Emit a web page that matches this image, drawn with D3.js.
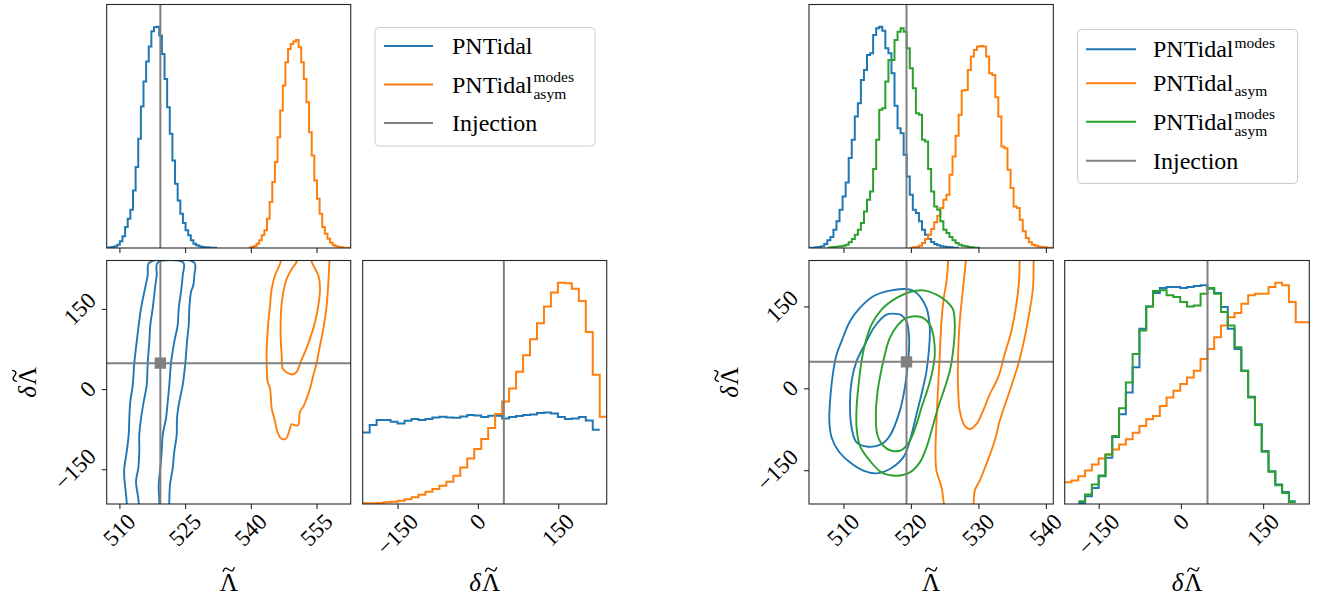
<!DOCTYPE html>
<html>
<head>
<meta charset="utf-8">
<script src="https://cdn.jsdelivr.net/npm/d3@7"></script>
<style>
  body { margin: 0; background: #fff; }
  svg { display: block; }
  text { font-family: "Liberation Serif", "Times New Roman", serif; fill: #000; }
</style>
</head>
<body>
<svg id="fig" width="1319" height="605"></svg>
<script>
// ---------------- data ----------------
const injectionLambda = 519.35;
const injectionDLambda = 48.5;

// tick values
const leftLambdaTicks = [510, 525, 540, 555];
const rightLambdaTicks = [510, 520, 530, 540];
const dLambdaTicks = [-150, 0, 150];

// axis ranges
const leftLambdaRange = [507.1, 562.8];
const leftDLambdaRange = [-215, 240.5];
const rightLambdaRange = [504.9, 541.1];
const rightDLambdaRange = [-212, 234.2];

// 1D marginal histograms (arbitrary density units); bins are regular: start + index * width
const leftLambdaBinStart = 507.1, leftLambdaBinWidth = 0.6;
const leftLambdaPNTidalFirst = 0;
const leftLambdaPNTidal = [1,2,3,5,10,20,35,63,88,115,173,243,328,425,500,560,605,651,663,665,638,583,508,423,343,263,193,143,103,75,53,38,23,13,8,5,3,2,2,1,1,1];
const leftLambdaModesAsymFirst = 54;
const leftLambdaModesAsym = [1,3,6,13,23,38,53,88,138,198,258,333,413,488,558,598,613,620,625,603,558,508,438,348,278,203,148,103,63,43,28,16,8,5,3,2,1,1,1];

const leftDLambdaBinCount = 35;
const leftDLambdaPNTidal = [215,237,252,252,247,242,250,255,252,255,260,262,260,259,263,267,266,261,265,265,257,261,264,267,269,273,275,272,261,255,257,261,251,223];
const leftDLambdaModesAsym = [2,2,3,5,7,10,14,20,28,37,45,55,67,85,110,137,165,195,228,270,308,347,397,447,495,543,593,635,665,663,647,610,517,388,262];

const rightLambdaBinStart = 504.9, rightLambdaBinWidth = 0.4525;
const rightLambdaModesFirst = 0;
const rightLambdaModes = [1,1,2,3,5,12,23,33,55,80,115,155,197,270,325,395,435,505,535,580,585,640,660,665,653,600,585,525,427,360,345,280,215,160,115,105,80,55,40,27,18,12,8,5,4,3,2,1,1];
const rightLambdaAsymFirst = 33;
const rightLambdaAsym = [1,2,3,7,15,27,40,57,77,97,120,145,160,220,275,337,400,473,475,535,575,595,605,607,605,575,525,520,453,395,305,300,235,180,125,120,85,50,30,17,10,7,4,3,2,1,1];
const rightLambdaModesAsymFirst = 6;
const rightLambdaModesAsym = [1,2,3,4,5,7,10,17,27,40,55,75,110,145,170,237,325,415,420,500,565,565,625,650,660,650,600,540,480,405,400,325,320,237,170,125,115,80,55,45,33,23,15,10,7,5,3,2,1,1];

const rightDLambdaBinCount = 36;
const rightDLambdaModesFirst = 2;
const rightDLambdaModes = [3,23,48,83,138,200,268,333,408,523,590,630,645,648,648,645,648,651,653,643,630,588,523,463,398,320,238,158,98,58,36,8];
const rightDLambdaAsymFirst = 0;
const rightDLambdaAsym = [65,70,83,100,118,136,148,163,178,193,213,233,253,263,293,318,338,358,378,398,433,463,498,533,558,570,598,623,628,628,648,661,653,603,543,543];
const rightDLambdaModesAsymFirst = 2;
const rightDLambdaModesAsym = [8,28,58,85,148,203,286,363,448,518,590,636,638,623,618,603,590,593,628,645,628,573,533,468,398,318,236,156,96,56,33,6];

// 2D credible contours, [Lambda, dLambda]
const leftPNTidalOuter = [[511.6,-230],[511.67,-212.8],[511.51,-197.4],[511.12,-165.7],[511.12,-147.7],[511.67,-116.8],[512.12,-85.7],[512.26,-54.6],[512.49,-23.6],[513.04,7.4],[513.4,48.4],[513.95,88.8],[514.41,119.7],[514.93,150.8],[515.68,181.9],[516.46,212.8],[516.83,236.5],[527.1,236.5],[527.1,212.8],[526.87,194.2],[526.35,181.9],[525.96,150.8],[525.82,119.7],[525.43,88.8],[525.05,48.4],[524.45,7.4],[523.68,-23.6],[523.15,-54.6],[523.08,-85.7],[522.53,-116.8],[522.17,-147.7],[521.55,-178.8],[521.39,-212.8],[521.39,-230]];
const leftPNTidalInner = [[514.41,-230],[514.41,-212.8],[514.18,-197.4],[513.79,-172.6],[514.31,-147.7],[514.54,-116.8],[514.54,-85.7],[514.93,-54.6],[515.55,-23.6],[516.23,7.4],[516.46,48.4],[516.83,88.8],[517.05,119.7],[517.6,150.8],[518.2,194.2],[518.52,212.8],[518.74,236.5],[524.59,236.5],[524.45,212.8],[524.06,181.9],[523.54,150.8],[523.31,119.7],[522.53,88.8],[521.78,48.4],[521.39,7.4],[521.03,-23.6],[520.64,-54.6],[519.89,-85.7],[519.66,-116.8],[519.34,-147.7],[518.97,-178.8],[519.11,-212.8],[519.1,-230]];
const leftModesAsymOuter = [[546.82,250],[546.82,238.4],[545.52,212.3],[544.76,187.5],[544.38,156.4],[544.0,125.4],[543.62,75.8],[543.62,49.1],[543.85,13.7],[544.38,1.2],[544.76,-36.0],[545.14,-48.4],[545.52,-60.8],[546.06,-79.5],[546.82,-91.9],[547.81,-93.8],[548.34,-88.8],[548.95,-73.3],[549.33,-65.8],[550.32,-68.3],[550.85,-67.0],[551.23,-42.2],[551.99,-32.9],[552.75,-17.4],[553.52,1.2],[554.28,26.1],[555.04,49.1],[555.65,75.8],[556.56,113.0],[557.32,156.4],[557.7,199.9],[557.93,238.4],[557.93,250]];
const leftModesAsymInner = [[550.47,250],[550.47,238.4],[549.33,224.7],[548.19,206.1],[547.28,175.0],[546.89,144.0],[546.82,94.4],[547.05,63.4],[547.28,38.5],[548.19,31.0],[549.33,27.3],[550.47,32.3],[551.39,51.0],[552.37,69.6],[553.52,94.4],[554.66,125.4],[555.42,156.4],[555.8,187.5],[555.42,212.3],[554.28,230.9],[553.9,238.4],[553.9,250]];

const rightModesOuter = [[519.10,182.0],[516.88,178.9],[514.42,168.6],[512.44,147.3],[510.97,122.9],[509.73,86.4],[508.99,62.1],[508.50,31.6],[508.10,-11.0],[507.91,-59.6],[508.25,-90.1],[509.24,-114.4],[510.97,-135.7],[512.94,-150.9],[514.91,-155.8],[516.88,-147.9],[518.86,-126.6],[519.84,-96.2],[520.83,-47.5],[521.57,-11.0],[522.31,31.6],[522.70,74.3],[522.80,110.8],[522.31,147.3],[521.32,168.6],[520.33,178.9]];
const rightModesInner = [[517.87,136.3],[516.39,135.1],[514.66,113.8],[513.18,80.3],[511.95,49.9],[511.21,13.4],[510.97,-29.2],[511.21,-71.8],[511.95,-99.2],[513.68,-107.1],[515.65,-102.3],[516.88,-87.0],[518.36,-41.4],[519.10,1.2],[519.59,49.9],[519.74,92.5],[519.35,122.9],[518.61,133.9]];
const rightModesAsymOuter = [[521.81,179.5],[523.79,171.6],[525.27,159.5],[526.25,144.2],[526.50,110.8],[526.25,68.2],[525.76,31.6],[525.02,1.2],[524.03,-35.3],[523.05,-77.9],[522.31,-108.3],[521.32,-135.7],[519.84,-154.0],[517.87,-160.1],[515.65,-154.0],[513.92,-132.7],[512.44,-105.3],[511.95,-71.8],[511.95,-35.3],[512.20,1.2],[512.69,49.9],[513.18,80.3],[514.17,116.9],[515.65,144.2],[517.87,165.6],[519.84,176.5]];
const rightModesAsymInner = [[520.73,132.1],[521.81,129.0],[522.80,116.9],[523.39,92.5],[523.54,62.1],[523.19,31.6],[522.55,1.2],[521.57,-35.3],[520.83,-65.7],[519.84,-96.2],[518.61,-113.2],[517.13,-114.4],[515.90,-105.3],[515.01,-84.0],[514.81,-47.5],[515.01,-11.0],[515.40,19.5],[516.14,62.1],[516.88,92.5],[518.11,116.9],[519.35,129.0]];
const rightAsymOuterLeft = [[525.51,245],[525.51,234.3],[525.27,196.0],[524.87,165.6],[524.53,122.9],[524.28,62.1],[524.03,1.2],[523.79,-59.6],[523.64,-120.5],[523.79,-150.9],[524.53,-181.4],[524.87,-210.6],[525.0,-225]];
const rightAsymOuterRight = [[538.18,245],[538.18,234.3],[538.09,183.8],[537.59,141.2],[536.85,92.5],[536.02,49.3],[535.13,13.4],[534.14,-23.1],[533.16,-59.6],[532.42,-96.2],[531.18,-138.8],[530.20,-169.2],[529.46,-187.5],[529.31,-210.6],[529.3,-225]];
const rightAsymInner = [[528.13,245],[528.13,234.3],[527.73,183.8],[527.24,122.9],[526.99,62.1],[526.99,1.2],[527.24,-41.4],[527.98,-68.8],[528.72,-74.9],[529.70,-65.7],[530.69,-41.4],[531.68,-11.0],[532.91,19.5],[533.89,62.1],[534.88,104.7],[535.62,153.4],[536.02,196.0],[536.11,234.3],[536.11,245]];

// ---------------- drawing ----------------
const C = { blue: "#1f77b4", orange: "#ff7f0e", green: "#2ca02c", inj: "#808080", spine: "#262626" };
const TICK_FS = 23, LABEL_FS = 25, LEG_FS = 24, SUP_FS = 15.5;
const LW = 2;
const svg = d3.select("#fig");
const defs = svg.append("defs");
let clipCount = 0;

function makePanel(x0, x1, y0, y1) {
  const id = "clip" + (clipCount++);
  defs.append("clipPath").attr("id", id).append("rect")
    .attr("x", x0).attr("y", y0).attr("width", x1 - x0).attr("height", y1 - y0);
  const root = svg.append("g");
  const inner = root.append("g").attr("clip-path", `url(#${id})`);
  return { x0, x1, y0, y1, root, inner };
}
function frame(p) {
  p.root.append("rect").attr("x", p.x0).attr("y", p.y0)
    .attr("width", p.x1 - p.x0).attr("height", p.y1 - p.y0)
    .attr("fill", "none").attr("stroke", C.spine).attr("stroke-width", 1.1);
}
function stepHist(p, x, y, start, width, first, vals, color) {
  const pts = vals.map((v, i) => [start + (first + i) * width, v]);
  pts.push([start + (first + vals.length) * width, vals[vals.length - 1]]);
  p.inner.append("path")
    .attr("d", d3.line().x(d => x(d[0])).y(d => y(d[1])).curve(d3.curveStepAfter)(pts))
    .attr("fill", "none").attr("stroke", color).attr("stroke-width", LW)
    .attr("stroke-linejoin", "miter");
}
function contour(p, x, y, pts, color, closed) {
  const line = d3.line().x(d => x(d[0])).y(d => y(d[1]))
    .curve(closed ? d3.curveCatmullRomClosed.alpha(0.5) : d3.curveCatmullRom.alpha(0.5));
  p.inner.append("path").attr("d", line(pts))
    .attr("fill", "none").attr("stroke", color).attr("stroke-width", 1.9);
}
function vLine(p, x, v) {
  p.inner.append("line").attr("x1", x(v)).attr("x2", x(v)).attr("y1", p.y0).attr("y2", p.y1)
    .attr("stroke", C.inj).attr("stroke-width", 2);
}
function hLine(p, y, v) {
  p.inner.append("line").attr("x1", p.x0).attr("x2", p.x1).attr("y1", y(v)).attr("y2", y(v))
    .attr("stroke", C.inj).attr("stroke-width", 2);
}
const fmt = v => (v < 0 ? "\u2212" + Math.abs(v) : String(v));

function xTicks(p, x, values, withLabels) {
  const ax = p.root.append("g").attr("transform", `translate(0,${p.y1})`)
    .call(d3.axisBottom(x).tickValues(values).tickSize(5).tickFormat(""));
  ax.select(".domain").remove();
  ax.selectAll(".tick line").attr("stroke", C.spine).attr("stroke-width", 1.1);
  if (!withLabels) return;
  values.forEach(v => {
    const t = p.root.append("text").text(fmt(v)).attr("font-size", TICK_FS)
      .attr("text-anchor", "middle").attr("dominant-baseline", "central");
    const L = t.node().getComputedTextLength();
    const half = (L + TICK_FS * 0.7) / (2 * Math.SQRT2);
    t.attr("transform", `translate(${x(v)},${p.y1 + 8 + half}) rotate(-45)`);
  });
}
function yTicks(p, y, values) {
  const ax = p.root.append("g").attr("transform", `translate(${p.x0},0)`)
    .call(d3.axisLeft(y).tickValues(values).tickSize(5).tickFormat(""));
  ax.select(".domain").remove();
  ax.selectAll(".tick line").attr("stroke", C.spine).attr("stroke-width", 1.1);
  values.forEach(v => {
    const t = p.root.append("text").text(fmt(v)).attr("font-size", TICK_FS)
      .attr("text-anchor", "middle").attr("dominant-baseline", "central");
    const L = t.node().getComputedTextLength();
    const half = (L + TICK_FS * 0.7) / (2 * Math.SQRT2);
    t.attr("transform", `translate(${p.x0 - 9 - half},${y(v)}) rotate(-45)`);
  });
}
// axis title: optional italic delta, capital Lambda, and a tilde accent stroked above the Lambda
const tildeShape = d3.line().curve(d3.curveNatural);
function lambdaLabel(xc, yc, withDelta, rotate) {
  const g = svg.append("g")
    .attr("transform", `translate(${xc},${yc})` + (rotate ? " rotate(-90)" : ""));
  const t = g.append("text").attr("font-size", LABEL_FS);
  let dSpan = null;
  if (withDelta) dSpan = t.append("tspan").attr("font-style", "italic").text("\u03b4");
  const wd = dSpan ? dSpan.node().getComputedTextLength() : 0;
  t.append("tspan").attr("dx", withDelta ? 1 : 0).text("\u039b");
  const total = t.node().getComputedTextLength() + (withDelta ? 1 : 0);
  t.attr("x", -total / 2);
  const cx = -total / 2 + wd + (withDelta ? 1 : 0) + (total - wd - (withDelta ? 1 : 0)) / 2;
  const a = 5.5, h = 1.8, cy = -LABEL_FS * 0.86;
  g.append("path")
    .attr("d", tildeShape([[cx - a, cy + h], [cx - a / 2, cy - h * 0.8], [cx + a / 2, cy + h * 0.8], [cx + a, cy - h]]))
    .attr("fill", "none").attr("stroke", "#000").attr("stroke-width", 1.3).attr("stroke-linecap", "round");
}
function legend(box, lineX, textX, rows) {
  svg.append("rect").attr("x", box[0]).attr("y", box[1]).attr("width", box[2]).attr("height", box[3])
    .attr("rx", 4).attr("fill", "#fff").attr("fill-opacity", 0.8)
    .attr("stroke", "#cccccc").attr("stroke-width", 1);
  rows.forEach(r => {
    svg.append("line").attr("x1", lineX[0]).attr("x2", lineX[1]).attr("y1", r.y).attr("y2", r.y)
      .attr("stroke", r.color).attr("stroke-width", 2);
    const t = svg.append("text").attr("x", textX).attr("y", r.y + 8).attr("font-size", LEG_FS).text(r.main);
    const w = t.node().getComputedTextLength();
    if (r.sup) svg.append("text").attr("x", textX + w + 1).attr("y", r.y + 8 - (r.sub ? 10.5 : 9.5))
      .attr("font-size", SUP_FS).text(r.sup);
    if (r.sub) svg.append("text").attr("x", textX + w + 1).attr("y", r.y + 8 + (r.sup ? 6.5 : 5))
      .attr("font-size", SUP_FS).text(r.sub);
  });
}

// layout of the two corner plots
const rowTop = [4.5, 248], rowBot = [260.5, 504];
const figs = [
  { cols: [[106.7, 350.7], [362.7, 606.7]], lam: leftLambdaRange, dl: leftDLambdaRange },
  { cols: [[809, 1053.3], [1064.7, 1309.3]], lam: rightLambdaRange, dl: rightDLambdaRange }
];

// ===== left corner plot: PNTidal vs PNTidal^modes_asym =====
{
  const f = figs[0];
  const pTop = makePanel(f.cols[0][0], f.cols[0][1], rowTop[0], rowTop[1]);
  const pCon = makePanel(f.cols[0][0], f.cols[0][1], rowBot[0], rowBot[1]);
  const pDl = makePanel(f.cols[1][0], f.cols[1][1], rowBot[0], rowBot[1]);
  const xL = d3.scaleLinear().domain(f.lam).range(f.cols[0]);
  const yTop = d3.scaleLinear().domain([0, 1.1 * d3.max(leftLambdaPNTidal.concat(leftLambdaModesAsym))]).range([rowTop[1], rowTop[0]]);
  stepHist(pTop, xL, yTop, leftLambdaBinStart, leftLambdaBinWidth, leftLambdaPNTidalFirst, leftLambdaPNTidal, C.blue);
  stepHist(pTop, xL, yTop, leftLambdaBinStart, leftLambdaBinWidth, leftLambdaModesAsymFirst, leftLambdaModesAsym, C.orange);
  vLine(pTop, xL, injectionLambda);
  frame(pTop); xTicks(pTop, xL, leftLambdaTicks, false);

  const yD = d3.scaleLinear().domain(f.dl).range([rowBot[1], rowBot[0]]);
  contour(pCon, xL, yD, leftPNTidalOuter, C.blue, false);
  contour(pCon, xL, yD, leftPNTidalInner, C.blue, false);
  contour(pCon, xL, yD, leftModesAsymOuter, C.orange, false);
  contour(pCon, xL, yD, leftModesAsymInner, C.orange, false);
  vLine(pCon, xL, injectionLambda); hLine(pCon, yD, injectionDLambda);
  pCon.inner.append("path").attr("d", d3.symbol(d3.symbolSquare, 130)())
    .attr("transform", `translate(${xL(injectionLambda)},${yD(injectionDLambda)})`).attr("fill", C.inj);
  frame(pCon); xTicks(pCon, xL, leftLambdaTicks, true); yTicks(pCon, yD, dLambdaTicks);

  const xD = d3.scaleLinear().domain(f.dl).range(f.cols[1]);
  const dw = (f.dl[1] - f.dl[0]) / leftDLambdaBinCount;
  const yH = d3.scaleLinear().domain([0, 1.1 * d3.max(leftDLambdaPNTidal.concat(leftDLambdaModesAsym))]).range([rowBot[1], rowBot[0]]);
  stepHist(pDl, xD, yH, f.dl[0], dw, 0, leftDLambdaPNTidal, C.blue);
  stepHist(pDl, xD, yH, f.dl[0], dw, 0, leftDLambdaModesAsym, C.orange);
  vLine(pDl, xD, injectionDLambda);
  frame(pDl); xTicks(pDl, xD, dLambdaTicks, true);

  lambdaLabel((f.cols[0][0] + f.cols[0][1]) / 2, 591, false, false);
  lambdaLabel((f.cols[1][0] + f.cols[1][1]) / 2, 591, true, false);
  lambdaLabel(36, (rowBot[0] + rowBot[1]) / 2, true, true);

  legend([375, 27.5, 220, 118.5], [384, 433], 452, [
    { y: 46, color: C.blue, main: "PNTidal" },
    { y: 84.5, color: C.orange, main: "PNTidal", sup: "modes", sub: "asym" },
    { y: 123, color: C.inj, main: "Injection" }
  ]);
}

// ===== right corner plot: PNTidal^modes, PNTidal_asym, PNTidal^modes_asym =====
{
  const f = figs[1];
  const pTop = makePanel(f.cols[0][0], f.cols[0][1], rowTop[0], rowTop[1]);
  const pCon = makePanel(f.cols[0][0], f.cols[0][1], rowBot[0], rowBot[1]);
  const pDl = makePanel(f.cols[1][0], f.cols[1][1], rowBot[0], rowBot[1]);
  const xL = d3.scaleLinear().domain(f.lam).range(f.cols[0]);
  const yTop = d3.scaleLinear().domain([0, 1.1 * d3.max(rightLambdaModes.concat(rightLambdaAsym, rightLambdaModesAsym))]).range([rowTop[1], rowTop[0]]);
  stepHist(pTop, xL, yTop, rightLambdaBinStart, rightLambdaBinWidth, rightLambdaModesFirst, rightLambdaModes, C.blue);
  stepHist(pTop, xL, yTop, rightLambdaBinStart, rightLambdaBinWidth, rightLambdaAsymFirst, rightLambdaAsym, C.orange);
  stepHist(pTop, xL, yTop, rightLambdaBinStart, rightLambdaBinWidth, rightLambdaModesAsymFirst, rightLambdaModesAsym, C.green);
  vLine(pTop, xL, injectionLambda);
  frame(pTop); xTicks(pTop, xL, rightLambdaTicks, false);

  const yD = d3.scaleLinear().domain(f.dl).range([rowBot[1], rowBot[0]]);
  contour(pCon, xL, yD, rightModesOuter, C.blue, true);
  contour(pCon, xL, yD, rightModesInner, C.blue, true);
  contour(pCon, xL, yD, rightAsymOuterLeft, C.orange, false);
  contour(pCon, xL, yD, rightAsymOuterRight, C.orange, false);
  contour(pCon, xL, yD, rightAsymInner, C.orange, false);
  contour(pCon, xL, yD, rightModesAsymOuter, C.green, true);
  contour(pCon, xL, yD, rightModesAsymInner, C.green, true);
  vLine(pCon, xL, injectionLambda); hLine(pCon, yD, injectionDLambda);
  pCon.inner.append("path").attr("d", d3.symbol(d3.symbolSquare, 130)())
    .attr("transform", `translate(${xL(injectionLambda)},${yD(injectionDLambda)})`).attr("fill", C.inj);
  frame(pCon); xTicks(pCon, xL, rightLambdaTicks, true); yTicks(pCon, yD, dLambdaTicks);

  const xD = d3.scaleLinear().domain(f.dl).range(f.cols[1]);
  const dw = (f.dl[1] - f.dl[0]) / rightDLambdaBinCount;
  const yH = d3.scaleLinear().domain([0, 1.1 * d3.max(rightDLambdaModes.concat(rightDLambdaAsym, rightDLambdaModesAsym))]).range([rowBot[1], rowBot[0]]);
  stepHist(pDl, xD, yH, f.dl[0], dw, rightDLambdaModesFirst, rightDLambdaModes, C.blue);
  stepHist(pDl, xD, yH, f.dl[0], dw, rightDLambdaAsymFirst, rightDLambdaAsym, C.orange);
  stepHist(pDl, xD, yH, f.dl[0], dw, rightDLambdaModesAsymFirst, rightDLambdaModesAsym, C.green);
  vLine(pDl, xD, injectionDLambda);
  frame(pDl); xTicks(pDl, xD, dLambdaTicks, true);

  lambdaLabel((f.cols[0][0] + f.cols[0][1]) / 2, 591, false, false);
  lambdaLabel((f.cols[1][0] + f.cols[1][1]) / 2, 591, true, false);
  lambdaLabel(738, (rowBot[0] + rowBot[1]) / 2, true, true);

  legend([1077.5, 29.5, 220, 154], [1086, 1136], 1153, [
    { y: 49.3, color: C.blue, main: "PNTidal", sup: "modes" },
    { y: 83.3, color: C.orange, main: "PNTidal", sub: "asym" },
    { y: 121.7, color: C.green, main: "PNTidal", sup: "modes", sub: "asym" },
    { y: 160.7, color: C.inj, main: "Injection" }
  ]);
}
</script>
</body>
</html>
